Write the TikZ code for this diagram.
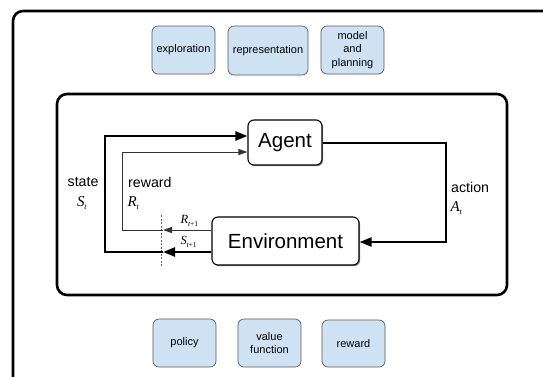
\documentclass[tikz,border=0pt]{standalone}
\usepackage{fontspec}
\setmainfont{Liberation Sans}
\newfontfamily\tms{Liberation Serif}
\usetikzlibrary{arrows.meta,shadows}

\definecolor{topicfill}{RGB}{207,226,243}

% italic symbol with a small italic subscript
\newcommand{\symsub}[3][8]{{\tms\itshape #2\kern-0.3pt\raisebox{-2.8pt}{\fontsize{#1}{#1}\selectfont #3}}}

\tikzset{
  topic/.style={draw=black!65, line width=0.7pt, fill=topicfill,
    rounded corners=6pt, align=center, font=\fontsize{11}{13.5}\selectfont, inner sep=0pt},
  actor/.style={draw=black, line width=1.1pt, fill=white, rounded corners=6pt,
    font=\fontsize{20.5}{22}\selectfont, inner sep=0pt,
    drop shadow={shadow xshift=1.2pt, shadow yshift=-1.2pt, opacity=0.45, fill=black}},
  frame/.style={draw=black, line width=2.6pt, rounded corners=10pt},
  thickflow/.style={draw=black, line width=2.3pt, -{Triangle[length=12pt,width=9pt]}},
  thinflow/.style={draw=black!80, line width=1pt, -{Triangle[length=9pt,width=6pt]}},
  lbl/.style={font=\fontsize{14.2}{15}\selectfont, inner sep=0pt, anchor=west},
  symlbl/.style={font=\fontsize{15}{16}\selectfont, inner sep=0pt, anchor=west},
  smalllbl/.style={font=\fontsize{12.5}{13}\selectfont, inner sep=0pt, anchor=west},
}

\begin{document}
\begin{tikzpicture}[x=1pt, y=-1pt]
\useasboundingbox (0,0) rectangle (543,376);

% outer frame, running off the right and bottom edges
\begin{scope}
  \clip (0,0) rectangle (543,376);
  \draw[frame] (13,11) rectangle (600,430);
\end{scope}

% inner frame
\draw[frame] (57,94) rectangle (507,295);

% topic boxes above
\node[topic, minimum width=63pt, minimum height=48pt] (explore) at (183.5,50) {exploration};
\node[topic, minimum width=80pt, minimum height=49pt] (repr) at (268,50.5) {representation};
\node[topic, minimum width=63pt, minimum height=48pt] (model) at (352.5,50) {model\\and\\planning};

% topic boxes below
\node[topic, minimum width=63pt, minimum height=48pt] (policy) at (184.5,343) {policy};
\node[topic, minimum width=63pt, minimum height=48pt] (value) at (269.5,343) {value\\function};
\node[topic, minimum width=63pt, minimum height=47pt] (rewardbox) at (353.5,343.5) {reward};

% agent and environment
\node[actor, minimum width=74pt, minimum height=45pt] (agent) at (285,142.5) {Agent};
\node[actor, minimum width=147pt, minimum height=48pt] (env) at (285.5,241) {Environment};

% time-step boundary
\coordinate (stepTop) at (161,215);
\coordinate (stepBot) at (161,267);
\draw[black!60, line width=0.7pt, dash pattern=on 2pt off 1.5pt] (stepTop) -- (stepBot);

% state loop
\coordinate (sMid) at (163,252);
\coordinate (sLow) at (105,252);
\coordinate (sHigh) at (105,136);
\draw[thickflow] (sMid -| env.west) -- (sMid);
\draw[thickflow] (sMid) -- (sLow) -- (sHigh) -- (sHigh -| agent.west);

% reward loop
\coordinate (rMid) at (163,230);
\coordinate (rLow) at (122,230);
\coordinate (rHigh) at (122,152);
\draw[thinflow] (rMid -| env.west) -- (rMid);
\draw[thinflow] (rMid) -- (rLow) -- (rHigh) -- (rHigh -| agent.west);

% action
\coordinate (aTop) at (446,143);
\coordinate (aLow) at (446,242);
\draw[thickflow] (aTop -| agent.east) -- (aTop) -- (aLow) -- (aLow -| env.east);

% labels
\node[lbl] (stateTxt) at (67.5,182) {state};
\node[symlbl] (stateSym) at (77,203) {\symsub{S}{t}};
\node[lbl] (rewardTxt) at (128,182) {reward};
\node[symlbl] (rewardSym) at (127.5,203) {\symsub{R}{t}};
\node[smalllbl] (rNext) at (180.5,221) {\symsub[7.5]{R}{t\upshape+1}};
\node[smalllbl] (sNext) at (180.5,242) {\symsub[7.5]{S}{t\upshape+1}};
\node[lbl] (actionTxt) at (451,187) {action};
\node[symlbl] (actionSym) at (450.5,208) {\symsub{A}{t}};
\end{tikzpicture}
\end{document}
